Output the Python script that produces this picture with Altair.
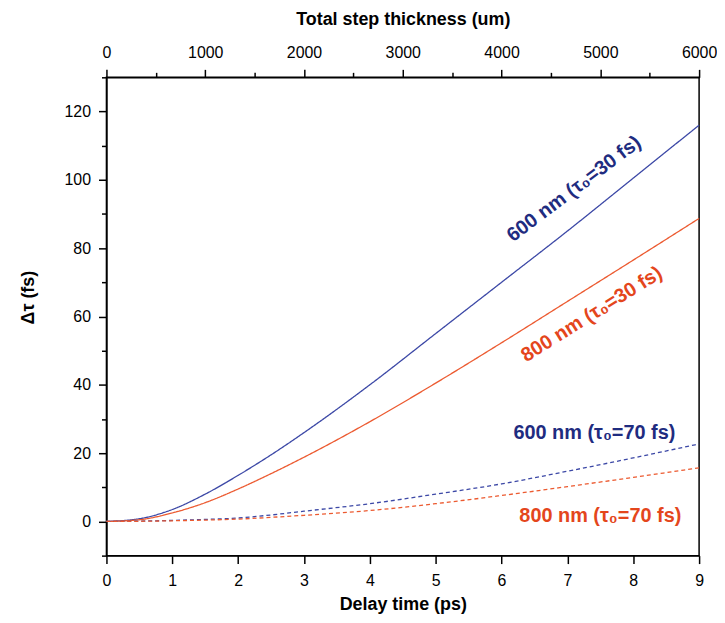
import altair as alt
import pandas as pd

# Delay time (ps)
t = [0, 0.5, 1, 1.5, 2, 2.5, 3, 4, 5, 6, 7, 8, 9]
blue_30 = [0, 0.8, 3.5, 8, 13.5, 19.5, 26, 40, 55, 70, 85, 100.5, 116]
red_30 = [0, 0.5, 2.5, 5.5, 9.5, 14, 18.8, 29.2, 40.5, 52.3, 64.4, 76.5, 88.7]
blue_70 = [0, 0.1, 0.3, 0.6, 1.0, 1.9, 3.0, 5.2, 8, 11, 14.7, 18.6, 22.7]
red_70 = [0, 0.05, 0.2, 0.4, 0.7, 1.2, 1.8, 3.2, 5.2, 7.6, 10.2, 12.9, 15.7]

series = {
    "600 nm 30 fs": blue_30,
    "800 nm 30 fs": red_30,
    "600 nm 70 fs": blue_70,
    "800 nm 70 fs": red_70,
}
series_color = ["#3c48a6", "#ec5a30", "#3c48a6", "#ec5a30"]
series_dash = ["solid", "solid", "dash", "dash"]

rows = []
for (name, vals), dash in zip(series.items(), series_dash):
    for ti, vi in zip(t, vals):
        rows.append({"t": ti, "v": vi, "series": name, "dash": dash})
df = pd.DataFrame(rows)

# Curve labels and anchor positions (data coords)
labels = ["600 nm (τ₀=30 fs)", "800 nm (τ₀=30 fs)", "600 nm (τ₀=70 fs)", "800 nm (τ₀=70 fs)"]
label_t = [7.1, 7.37, 7.41, 7.5]
label_v = [97.3, 60.6, 26.0, 1.6]
label_angle = [323, 328, 0, 0]
label_color = ["#1f2c80", "#e4461c", "#1f2c80", "#e4461c"]

thickness = [0, 6000]

FONT = "Liberation Sans"

xscale = alt.Scale(domain=[0, 9], nice=False, zero=False)
yscale = alt.Scale(domain=[-10, 130], nice=False, zero=False)

x_axis = alt.Axis(
    orient="bottom",
    values=[i * 0.5 for i in range(19)],
    format="d",
    labelExpr="datum.value % 1 === 0 ? datum.label : ''",
    tickSize={"condition": {"test": "datum.value % 1 === 0", "value": 8}, "value": 5},
    labelPadding=9,
    title="Delay time (ps)",
    titlePadding=7,
)
y_axis = alt.Axis(
    orient="left",
    values=list(range(-10, 131, 10)),
    format="d",
    labelExpr="datum.value % 20 === 0 ? datum.label : ''",
    tickSize={"condition": {"test": "datum.value % 20 === 0", "value": 8}, "value": 5},
    labelPadding=8,
    title="Δτ (fs)",
    titlePadding=27,
    titleY=221,
)

lines = alt.Chart(df).mark_line(strokeWidth=1.3, interpolate="monotone").encode(
    x=alt.X("t:Q", scale=xscale, axis=x_axis),
    y=alt.Y("v:Q", scale=yscale, axis=y_axis),
    color=alt.Color("series:N", scale=alt.Scale(domain=list(series.keys()), range=series_color), legend=None),
    strokeDash=alt.StrokeDash("dash:N", scale=alt.Scale(domain=["solid", "dash"], range=[[1, 0], [4, 3]]), legend=None),
    detail="series:N",
)

text_layers = []
for lab, lt, lv, la, lc in zip(labels, label_t, label_v, label_angle, label_color):
    d = pd.DataFrame({"t": [lt], "v": [lv], "label": [lab]})
    text_layers.append(
        alt.Chart(d).mark_text(
            font=FONT, fontSize=20, fontWeight="bold", angle=la, color=lc,
            align="center", baseline="middle",
        ).encode(
            x=alt.X("t:Q", scale=xscale, axis=x_axis),
            y=alt.Y("v:Q", scale=yscale, axis=y_axis),
            text="label:N",
        )
    )

inner = alt.layer(lines, *text_layers)

top = alt.Chart(pd.DataFrame({"thk": thickness})).mark_point(opacity=0).encode(
    x=alt.X(
        "thk:Q",
        scale=alt.Scale(domain=[0, 6000], nice=False),
        axis=alt.Axis(
            orient="top",
            values=list(range(0, 6001, 500)),
            labelExpr="datum.value % 1000 === 0 ? datum.label : ''",
            tickSize={"condition": {"test": "datum.value % 1000 === 0", "value": 8}, "value": 5},
            format="d",
            labelPadding=9,
            title="Total step thickness (um)",
            titlePadding=16,
        ),
    )
)

chart = alt.layer(inner, top).resolve_scale(x="independent").properties(
    width=596,
    height=481,
    background="white",
    autosize=alt.AutoSizeParams(type="none"),
    padding={"left": 99, "top": 68, "right": 18, "bottom": 58},
).configure_view(
    stroke="black", strokeWidth=1.5
).configure_axis(
    domainColor="black", domainWidth=1.5, tickColor="black", tickWidth=1.5,
    labelFont=FONT, labelFontSize=16, labelColor="black",
    titleFont=FONT, titleFontSize=18, titleFontWeight="bold", titleColor="black",
    grid=False, labelFlush=False,
)

chart.save("out.html", embed_options={"renderer": "svg", "actions": False})
